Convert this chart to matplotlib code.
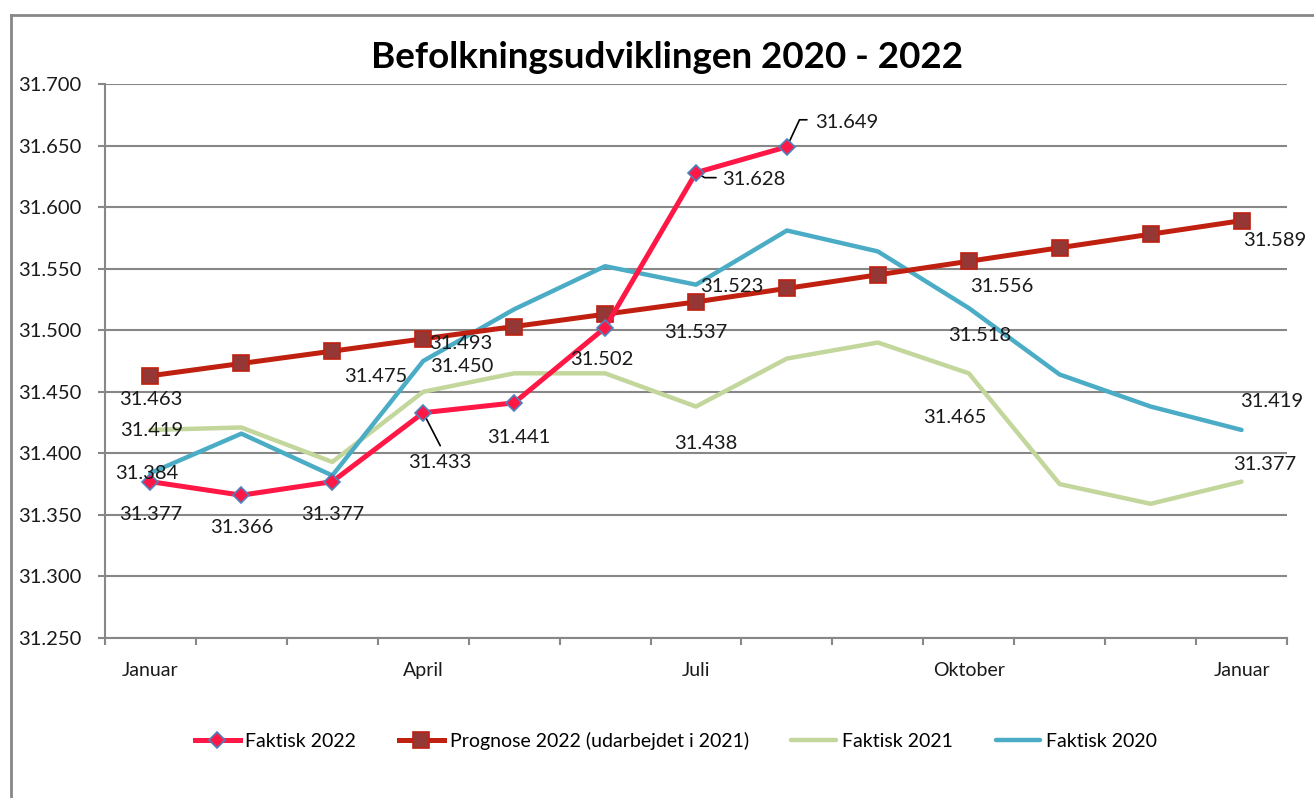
import matplotlib.pyplot as plt
from matplotlib.lines import Line2D
from matplotlib.ticker import FuncFormatter

plt.rcParams['font.family'] = ['Lato', 'DejaVu Sans']

months = ['Januar', 'Februar', 'Marts', 'April', 'Maj', 'Juni', 'Juli',
          'August', 'September', 'Oktober', 'November', 'December', 'Januar']
tick_labels = ['Januar', 'April', 'Juli', 'Oktober', 'Januar']
tick_idx = [0, 3, 6, 9, 12]

faktisk_2022 = [31377, 31366, 31377, 31433, 31441, 31502, 31628, 31649]
prognose_2022 = [31463, 31473, 31483, 31493, 31503, 31513, 31523, 31534,
                 31545, 31556, 31567, 31578, 31589]
faktisk_2021 = [31419, 31421, 31393, 31450, 31465, 31465, 31438, 31477,
                31490, 31465, 31375, 31359, 31377]
faktisk_2020 = [31384, 31416, 31382, 31475, 31517, 31552, 31537, 31581,
                31564, 31518, 31464, 31438, 31419]


def fmt(v, pos=None):
    return '{:,.0f}'.format(v).replace(',', '.')


fig = plt.figure(figsize=(13.14, 7.98), dpi=100)
ax = fig.add_axes([105 / 1314, 1 - 638 / 798, (1287 - 105) / 1314, (638 - 84) / 798])

x = list(range(len(months)))

grid_c = '#878787'
for v in range(31250, 31701, 50):
    ax.axhline(v, color=grid_c, lw=1.5, zorder=1)

l21, = ax.plot(x, faktisk_2021, color='#c3d69b', lw=3.2, zorder=3,
               solid_capstyle='round', label='Faktisk 2021')
l20, = ax.plot(x, faktisk_2020, color='#4bacc6', lw=3.2, zorder=3,
               solid_capstyle='round', label='Faktisk 2020')
lp, = ax.plot(x, prognose_2022, color='#c0200f', lw=3.6, zorder=4,
              marker='s', ms=11, mfc='#953735', mec='#c0200f', mew=1.2,
              label='Prognose 2022 (udarbejdet i 2021)')
l22, = ax.plot(x[:len(faktisk_2022)], faktisk_2022, color='#ff1745', lw=3.6, zorder=5,
               marker='D', ms=8, mfc='#ff1745', mec='#4f81bd', mew=1.2,
               label='Faktisk 2022')

# data labels: (series, index, dx px, dy px)
labels = [
    (faktisk_2022, 0, 0, -33),
    (faktisk_2022, 1, 0, -32),
    (faktisk_2022, 2, 0, -33),
    (faktisk_2022, 3, 17, -50),
    (faktisk_2022, 4, 5, -35),
    (faktisk_2022, 5, -3, -32),
    (faktisk_2022, 6, 58, -7),
    (faktisk_2022, 7, 60, 24),
    (prognose_2022, 0, 0, -24),
    (prognose_2022, 3, 38, -5),
    (prognose_2022, 6, 36, 15),
    (prognose_2022, 9, 33, -25),
    (prognose_2022, 12, 33, -20),
    (faktisk_2021, 0, 1, -1),
    (faktisk_2021, 3, 39, 25),
    (faktisk_2021, 6, 10, -37),
    (faktisk_2021, 9, -14, -44),
    (faktisk_2021, 12, 23, 17),
    (faktisk_2020, 0, -4, 0),
    (faktisk_2020, 3, -47, -15),
    (faktisk_2020, 6, 0, -48),
    (faktisk_2020, 9, 11, -27),
    (faktisk_2020, 12, 30, 28),
]
k = 72 / 100
for series, i, dx, dy in labels:
    ax.annotate(fmt(series[i]), (i, series[i]), xytext=(dx * k, dy * k),
                textcoords='offset points', ha='center', va='center',
                fontsize=14.5, color='#1a1a1a', zorder=6)

# leader lines
ax.annotate('', (3, faktisk_2022[3]), xytext=(17 * k, -33 * k), textcoords='offset points',
            arrowprops=dict(arrowstyle='-', color='black', lw=1.2, shrinkA=0, shrinkB=2))
ax.annotate('', (6, faktisk_2022[6]), xytext=(20 * k, -5 * k), textcoords='offset points',
            arrowprops=dict(arrowstyle='-', color='black', lw=1.2, shrinkA=0, shrinkB=2,
                            connectionstyle='angle,angleA=0,angleB=-30,rad=0'))
ax.annotate('', (7, faktisk_2022[7]), xytext=(20 * k, 27 * k), textcoords='offset points',
            arrowprops=dict(arrowstyle='-', color='black', lw=1.2, shrinkA=0, shrinkB=2,
                            connectionstyle='angle,angleA=0,angleB=65,rad=0'))

ax.set_xlim(-0.5, 12.5)
ax.set_ylim(31250, 31700)
ax.set_yticks(range(31250, 31701, 50))
ax.yaxis.set_major_formatter(FuncFormatter(fmt))
ax.set_xticks(tick_idx)
ax.set_xticklabels(tick_labels)
ax.set_xticks([i - 0.5 for i in range(14)], minor=True)
ax.tick_params(axis='x', which='major', length=0, pad=17, labelsize=14, colors='#1a1a1a')
ax.tick_params(axis='x', which='minor', length=5, width=1.5, color=grid_c)
ax.tick_params(axis='y', length=5, width=1.5, color=grid_c, pad=12, labelsize=14.5,
               labelcolor='#1a1a1a')
for s in ['top', 'right']:
    ax.spines[s].set_visible(False)
for s in ['left', 'bottom']:
    ax.spines[s].set_color(grid_c)
    ax.spines[s].set_linewidth(1.5)

fig.text(667 / 1314, 1 - 57 / 798, 'Befolkningsudviklingen 2020 - 2022',
         ha='center', va='center', fontsize=26.5, fontweight='bold')

# outer frame
fig.add_artist(Line2D([11 / 1314, 11 / 1314], [0, 1 - 15 / 798], transform=fig.transFigure,
                      color=grid_c, lw=2))
fig.add_artist(Line2D([11 / 1314, 1], [1 - 15 / 798, 1 - 15 / 798], transform=fig.transFigure,
                      color=grid_c, lw=2))

fig.legend(handles=[l22, lp, l21, l20], loc='center', bbox_to_anchor=(676 / 1314, 1 - 741 / 798),
           ncol=4, frameon=False, fontsize=14, handlelength=2.3, handletextpad=0.3,
           columnspacing=2.2)

fig.savefig('out.png', dpi=100)
